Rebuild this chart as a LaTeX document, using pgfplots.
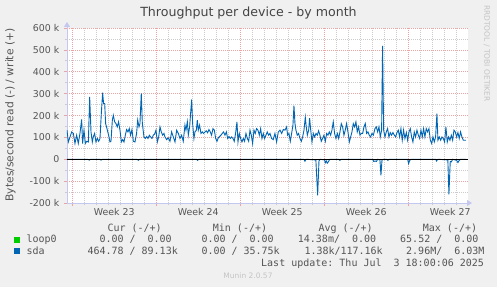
\documentclass[border=0pt]{standalone}
\usepackage{pgfplots}
\pgfplotsset{compat=1.18}
\usepackage{fontspec}
\setmainfont{DejaVu Sans}
\setmonofont{DejaVu Sans Mono}
\usetikzlibrary{arrows.meta}
\definecolor{bgc}{HTML}{F0F0F0}
\definecolor{mgrid}{HTML}{EBA3A3}
\definecolor{ngrid}{HTML}{CCCCCC}
\definecolor{axc}{HTML}{C4C8F0}
\definecolor{txt}{HTML}{555555}
\definecolor{ttl}{HTML}{444444}
\definecolor{sda}{HTML}{0066B3}
\definecolor{loopc}{HTML}{00CC00}
\definecolor{faint}{HTML}{C4C4C4}
\begin{document}
\begin{tikzpicture}
\begin{scope}[x=1pt,y=1pt,shift={(-67pt,-84pt)}]
\fill[bgc] (0,0) rectangle (497,287);
\path[use as bounding box] (0,0) rectangle (497,287);
\end{scope}
\begin{axis}[
  at={(0pt,0pt)}, anchor=south west, scale only axis,
  width=401pt, height=175pt,
  xmin=-0.44, xmax=32.98, ymin=-200, ymax=600,
  axis background/.style={fill=white},
  axis lines=left,
  x axis line style={draw=axc, line width=0.8pt, shorten >=-4pt, -{Triangle[width=6pt,length=5pt]}},
  y axis line style={draw=axc, line width=0.8pt, shorten >=-6pt, -{Triangle[width=6pt,length=5pt]}},
  xtick={0,7,14,21,28}, xticklabels={,,,,},
  minor xtick={1,2,3,4,5,6,8,9,10,11,12,13,15,16,17,18,19,20,22,23,24,25,26,27,29,30,31,32},
  ytick={-200,-100,0,100,200,300,400,500,600},
  yticklabels={-200 k,-100 k,0,100 k,200 k,300 k,400 k,500 k,600 k},
  minor ytick={-150,-50,50,150,250,350,450,550},
  grid=both,
  major grid style={draw=mgrid, dash pattern=on 1pt off 1pt, line width=0.7pt},
  minor grid style={draw=ngrid, dash pattern=on 1pt off 1pt, line width=0.7pt},
  tick align=outside, major tick length=3pt, minor tick length=2pt,
  major tick style={draw=mgrid, line width=0.7pt},
  minor tick style={draw=ngrid, line width=0.7pt},
  ticklabel style={font=\fontsize{9.4}{11}\selectfont, text=txt},
  yticklabel style={inner sep=0pt, xshift=-4.5pt},
  xticklabel style={inner sep=0pt, yshift=-5pt},
  extra x ticks={3.5,10.5,17.5,24.5,31.5},
  extra x tick labels={Week 23,Week 24,Week 25,Week 26,Week 27},
  extra x tick style={grid=none, major tick length=0pt},
  title={Throughput per device - by month},
  title style={at={(0.4526,1)}, anchor=base, yshift=5pt, inner sep=0pt, font=\fontsize{12.6}{15}\selectfont, text=ttl},
  ylabel={Bytes/second read (-) / write (+)},
  ylabel style={at={(-0.1409,0.503)}, anchor=center, inner sep=0pt, font=\fontsize{10.7}{13}\selectfont, text=txt},
]
\addplot[loopc, line width=1pt] coordinates {(-0.44,0) (32.81,0)};
% sda read (negative)
\addplot[sda, line width=0.9pt] coordinates {
(-0.44,0) (1.3,0) (1.42,-4) (1.52,0) (2.3,0) (2.4,-4) (2.5,0) (5.4,0) (5.5,-5) (5.6,0)
(10.35,0) (10.45,-5) (10.55,0) (19.3,0) (19.39,-9) (19.48,0)
(20.3,-3) (20.45,-165) (20.56,-8) (20.64,0)
(21.03,-3) (21.09,-16) (21.17,-8) (21.25,-18) (21.36,-10) (21.45,0)
(22.2,0) (22.3,-5) (22.4,0) (25.05,0) (25.12,-10) (25.25,-8) (25.35,-10) (25.45,0)
(25.64,-3) (25.725,-73) (25.81,-5) (25.9,0) (26.2,0) (26.3,-5) (26.4,0)
(27.95,0) (28.03,-20) (28.1,-8) (28.2,0) (30.28,0) (30.36,-8) (30.45,0)
(31.3,-3) (31.39,-160) (31.5,-10) (31.6,-12) (31.7,0)
(32.03,-5) (32.14,-15) (32.25,-5) (32.36,0) (32.81,0)
};
% sda write (positive)
\addplot[sda, line width=0.9pt] coordinates {
(-0.44,133) (-0.33,79) (-0.19,102) (-0.05,125) (0.09,118) (0.225,72) (0.364,110) (0.5,72) (0.64,118) (0.78,182) (0.86,72) (0.975,133) (1.09,72) (1.2,82) (1.34,79) (1.45,285) (1.56,125) (1.67,79) (1.75,102) (1.86,118) (1.975,79) (2.09,95) (2.2,82) (2.31,95) (2.42,209) (2.53,304) (2.61,255) (2.7,255) (2.78,163) (2.89,140) (3.03,110) (3.14,79) (3.225,82) (3.34,179) (3.42,201) (3.53,171) (3.64,163) (3.75,148) (3.86,171) (3.975,133) (4.09,79) (4.2,90) (4.31,79) (4.42,110) (4.53,136) (4.64,125) (4.75,140) (4.86,110) (4.975,136) (5.09,82) (5.225,79) (5.36,118) (5.45,179) (5.56,148) (5.64,163) (5.75,301) (5.84,163) (5.975,102) (6.09,95) (6.2,104) (6.31,95) (6.42,110) (6.53,102) (6.64,95) (6.75,110) (6.86,115) (6.975,133) (7.09,79) (7.2,102) (7.31,148) (7.42,125) (7.53,110) (7.64,118)
(7.725,102) (7.86,90) (8.0,98) (8.14,82) (8.28,125) (8.42,102) (8.56,79) (8.7,133) (8.84,118) (8.975,95) (9.11,110) (9.25,82) (9.39,156) (9.475,133) (9.59,171) (9.67,110) (9.78,148) (9.86,209) (9.95,273) (10.03,163) (10.14,95) (10.225,125) (10.34,133) (10.42,179) (10.5,133) (10.61,156) (10.725,118) (10.84,125) (10.95,118) (11.06,125) (11.17,130) (11.28,121) (11.39,136) (11.5,125) (11.61,110) (11.725,140) (11.84,133) (11.95,95) (12.06,82) (12.17,98) (12.28,104) (12.39,110) (12.5,118) (12.61,125) (12.725,110) (12.84,125) (12.95,95) (13.06,104) (13.17,95) (13.28,102) (13.39,95) (13.5,82) (13.61,118) (13.725,171) (13.81,79) (13.92,118) (14.03,95) (14.14,79) (14.25,95) (14.36,82) (14.475,118) (14.59,95) (14.7,82) (14.81,133) (14.92,110) (15.03,72) (15.14,133) (15.25,118) (15.36,140) (15.475,133) (15.59,110) (15.7,140) (15.81,95) (15.92,118) (16.03,95) (16.14,110) (16.25,125) (16.36,110)
(16.475,118) (16.61,95) (16.75,90) (16.89,118) (17.03,79) (17.17,125) (17.31,133) (17.45,118) (17.59,136) (17.725,133) (17.86,148) (17.95,110) (18.06,118) (18.17,82) (18.28,118) (18.39,156) (18.475,245) (18.56,163) (18.64,133) (18.75,110) (18.86,118) (18.975,95) (19.09,82) (19.2,102) (19.31,133) (19.42,192) (19.5,148) (19.59,110) (19.7,133) (19.78,188) (19.86,140) (19.975,79) (20.09,118) (20.2,102) (20.31,118) (20.42,110) (20.53,130) (20.64,110) (20.75,82) (20.86,95) (20.975,110) (21.09,82) (21.2,118) (21.31,110) (21.42,125) (21.53,110) (21.64,133) (21.75,171) (21.86,118) (21.975,95) (22.09,118) (22.2,95) (22.31,125) (22.42,163) (22.53,148) (22.64,110) (22.75,133) (22.86,163) (22.975,125) (23.09,79) (23.2,102) (23.31,125) (23.42,163) (23.53,148) (23.64,171) (23.75,125) (23.86,148) (23.975,110) (24.09,118) (24.2,118) (24.31,148) (24.42,163) (24.53,118) (24.64,125) (24.75,110) (24.86,102) (24.975,118) (25.09,110)
(25.225,140) (25.34,148) (25.45,125) (25.56,148) (25.67,102) (25.78,133) (25.86,518) (25.95,133) (26.06,102) (26.17,125) (26.28,140) (26.39,102) (26.5,122) (26.61,110) (26.725,122) (26.84,110) (26.95,102) (27.06,122) (27.17,133) (27.28,102) (27.39,140) (27.5,87) (27.61,133) (27.725,95) (27.84,122) (27.95,87) (28.06,125) (28.17,140) (28.28,102) (28.39,79) (28.5,125) (28.61,102) (28.725,133) (28.84,110) (28.95,95) (29.06,133) (29.17,102) (29.28,140) (29.39,102) (29.5,140) (29.61,125) (29.725,140) (29.84,87) (29.95,72) (30.06,102) (30.17,79) (30.28,102) (30.39,209) (30.475,87) (30.59,102) (30.7,87) (30.81,102) (30.92,95) (31.03,79) (31.14,148) (31.25,79) (31.36,102) (31.475,87) (31.59,110) (31.7,87) (31.81,133) (31.92,125) (32.03,102) (32.14,122) (32.25,95) (32.36,125) (32.475,102) (32.59,87) (32.7,87) (32.81,87)
};
\addplot[black, line width=1pt] coordinates {(-0.44,0) (32.98,0)};
\end{axis}
\begin{scope}[x=1pt,y=1pt,shift={(-67pt,-84pt)}]
% vertical credit
\node[rotate=-90, font=\fontsize{7.5}{9}\selectfont, text=faint, inner sep=0pt] at (486.7,233.5) {RRDTOOL / TOBI OETIKER};
% legend
\begin{scope}[every node/.style={anchor=base west, inner sep=0pt, font=\ttfamily\fontsize{10}{12}\selectfont, text=txt}]
\node at (107.3,55.5) {Cur~(-/+)};
\node at (212.7,55.5) {Min~(-/+)};
\node at (318.3,55.5) {Avg~(-/+)};
\node at (422.7,55.5) {Max~(-/+)};
\fill[loopc] (14,44.3) rectangle (20,50.3);
\node at (26.3,44.3) {loop0};
\node at (99.3,44.3) {0.00~/~~0.00};
\node at (201.3,44.3) {0.00~/~~0.00};
\node at (297.7,44.3) {14.38m/~~0.00};
\node at (400,44.3) {65.52~/~~0.00};
\fill[sda] (14,32.7) rectangle (20,38.7);
\node at (26.3,32.7) {sda};
\node at (87.3,32.7) {464.78~/~89.13k};
\node at (201.3,32.7) {0.00~/~35.75k};
\node at (304.3,32.7) {1.38k/117.16k};
\node at (406,32.7) {2.96M/~~6.03M};
\node at (261,20.5) {Last~update:~Thu~Jul~~3~18:00:06~2025};
\end{scope}
\node[anchor=base, inner sep=0pt, font=\fontsize{7.5}{9}\selectfont, text=faint] at (248,8.5) {Munin 2.0.57};
\end{scope}
\end{tikzpicture}
\end{document}
